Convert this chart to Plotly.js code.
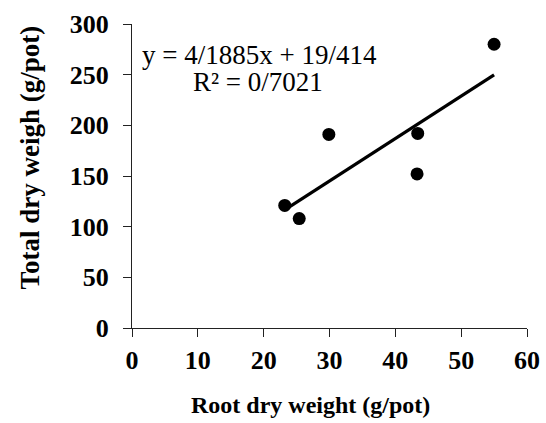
<!DOCTYPE html>
<html>
<head>
<meta charset="utf-8">
<script src="https://cdn.plot.ly/plotly-3.0.1.min.js"></script>
<style>html,body{margin:0;padding:0;background:#fff;}#chart{width:546px;height:423px;}</style>
</head>
<body>
<div id="chart"></div>
<script>
const rootDryWeight = [23.2, 25.4, 29.9, 43.4, 43.3, 55.0];
const totalDryWeight = [121, 108, 191, 192, 152, 280];
const slope = 4.1885;
const intercept = 19.414;
const trendX = [23.2, 55.0];
const trendY = trendX.map(x => slope * x + intercept);
const equationLine = "y = 4/1885x + 19/414";
const r2Line = "R² = 0/7021";
const xTitle = "Root dry weight (g/pot)";
const yTitle = "Total dry weigh (g/pot)";
const xTicks = [0, 10, 20, 30, 40, 50, 60];
const yTicks = [0, 50, 100, 150, 200, 250, 300];

const font = "Liberation Serif, Times New Roman, serif";

const traces = [
  {x: trendX, y: trendY, mode: "lines", type: "scatter",
   line: {color: "#000", width: 3.2}, hoverinfo: "skip"},
  {x: rootDryWeight, y: totalDryWeight, mode: "markers", type: "scatter",
   marker: {color: "#000", size: 13}}
];

const layout = {
  width: 546, height: 423,
  margin: {l: 131.5, r: 19, t: 24, b: 95},
  showlegend: false,
  paper_bgcolor: "#fff", plot_bgcolor: "#fff",
  font: {family: font, color: "#000"},
  xaxis: {
    range: [0, 60], tickvals: xTicks, ticktext: xTicks.map(String),
    showgrid: false, zeroline: false, showline: true, linecolor: "#222", linewidth: 1,
    ticks: "outside", ticklen: 8, tickcolor: "#222", tickwidth: 1,
    tickfont: {family: font, size: 26, color: "#000", weight: "bold"},
    ticklabelstandoff: 1
  },
  yaxis: {
    range: [0, 300], tickvals: yTicks, ticktext: yTicks.map(String),
    showgrid: false, zeroline: false, showline: true, linecolor: "#222", linewidth: 1,
    ticks: "outside", ticklen: 8, tickcolor: "#222", tickwidth: 1,
    tickfont: {family: font, size: 26, color: "#000", weight: "bold"},
    ticklabelstandoff: 9
  },
  annotations: [
    {x: 0.451, y: -0.252, xref: "paper", yref: "paper", text: "<b>" + xTitle + "</b>",
     showarrow: false, xanchor: "center", yanchor: "middle",
     font: {family: font, size: 24, color: "#000"}},
    {x: -0.259, y: 0.5597, xref: "paper", yref: "paper", text: "<b>" + yTitle + "</b>",
     textangle: -90, showarrow: false, xanchor: "center", yanchor: "middle",
     font: {family: font, size: 27, color: "#000"}},
    {x: 19.4, y: 269.5, xref: "x", yref: "y", text: equationLine,
     showarrow: false, xanchor: "center", yanchor: "middle",
     font: {family: font, size: 27, color: "#000"}},
    {x: 19.2, y: 242.8, xref: "x", yref: "y", text: r2Line,
     showarrow: false, xanchor: "center", yanchor: "middle",
     font: {family: font, size: 27, color: "#000"}}
  ]
};

Plotly.newPlot("chart", traces, layout, {displayModeBar: false, staticPlot: true});
</script>
</body>
</html>
